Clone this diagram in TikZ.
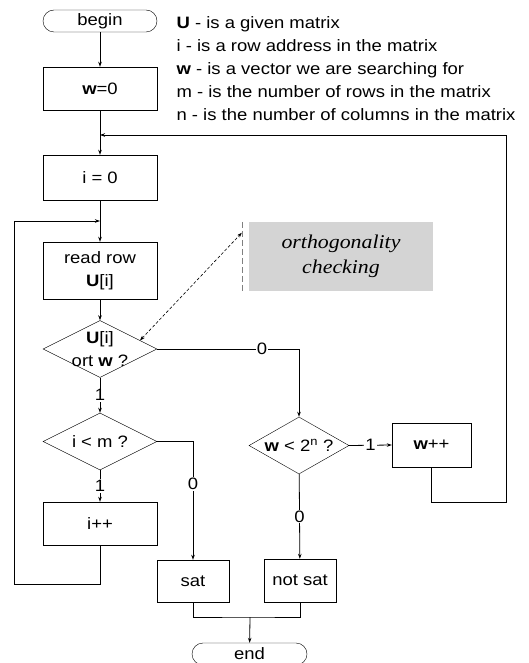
\documentclass[tikz,border=0pt]{standalone}
\usepackage{fontspec}
\setmainfont{Liberation Sans}[FakeStretch=1.12]
\newfontfamily\notefont{Liberation Serif}[FakeStretch=1.12]
\usetikzlibrary{shapes.geometric, arrows.meta, calc}

\begin{document}
\begin{tikzpicture}[x=1pt, y=-1pt, font=\fontsize{16.5}{23}\selectfont,
  >={Stealth[length=5pt, width=3.5pt]},
  proc/.style={draw, minimum width=114pt, minimum height=43pt, inner sep=2pt, align=center},
  term/.style={draw, rounded corners=11pt, minimum width=114pt, minimum height=22pt, inner sep=0pt},
  dec/.style={draw, diamond, minimum width=114pt, minimum height=57pt, inner sep=0pt},
  lbl/.style={fill=white, inner sep=1pt},
  note/.style={fill=black!17, minimum width=184pt, minimum height=69pt, align=center,
               font=\notefont\itshape\fontsize{19.5}{25}\selectfont},
  flow/.style={->, line width=0.8pt}]
  \useasboundingbox (0,0) rectangle (529,663);

  \node[term] (begin) at (100,21) {begin};
  \node[proc] (wzero) at (100,88.5) {\textbf{w}=0};
  \node[proc, minimum height=45pt] (izero) at (100,177.5) {i = 0};
  \node[proc, minimum height=57pt] (read) at (100,270.5) {read row\\\textbf{U}[i]};
  \node[dec, label={[align=center]center:\textbf{U}[i]\\ort \textbf{w} ?}] (ort) at (100,349) {};
  \node[dec] (ilm) at (100,441.5) {};
  \node at (ilm) {i < m ?};
  \node[proc] (ipp) at (100,523.5) {i++};
  \node[proc, minimum width=72pt, minimum height=42pt] (sat) at (193,581) {sat};
  \node[dec, minimum width=100pt] (wlt) at (299,445.5) {};
  \node at (wlt) {\textbf{w} < 2\textsuperscript{n} ?};
  \node[proc, minimum width=79pt, minimum height=44pt] (wpp) at (431.5,445) {\textbf{w}++};
  \node[proc, minimum width=72pt, minimum height=43pt] (notsat) at (300,580.5) {not sat};
  \node[term, minimum width=115pt] (end) at (249.5,654) {end};
  \node[note] (note) at (341,256.5) {orthogonality\\checking};
  \node[anchor=west, align=left] (legend) at (173,69)
    {\textbf{U} - is a given matrix\\
     i - is a row address in the matrix\\
     \textbf{w} - is a vector we are searching for\\
     m - is the number of rows in the matrix\\
     n - is the number of columns in the matrix};

  \coordinate (jw) at (100,135);
  \coordinate (ji) at (100,221);
  \coordinate (jm) at (250,617);

  \draw[flow] (begin) -- (wzero);
  \draw[flow] (wzero) -- (izero);
  \draw[flow] (izero) -- (read);
  \draw[flow] (read) -- (ort);
  \draw[flow] (ort) -- node[lbl] {1} (ilm);
  \draw[flow] (ilm) -- node[lbl] {1} (ipp);
  \draw[flow] (ort.east) -| node[lbl, pos=0.37] {0} (wlt.north);
  \draw[flow] (ilm.east) -| node[lbl, pos=0.68] {0} (sat.north);
  \draw[flow] (wlt.east) -- node[lbl] {1} (wpp.west);
  \draw[flow] (wlt) -- node[lbl] {0} (notsat);
  \draw[flow] (ipp.south) |- (14,584) |- (ji);
  \draw[flow] (wpp.south) |- (506,502) |- (jw);
  \draw[line width=0.8pt] (sat.south) |- (jm) -| (notsat.south);
  \draw[flow] (jm) -- (end);

  \draw[gray, dash pattern=on 6pt off 3pt] ([xshift=-7pt]note.north west) -- ([xshift=-7pt]note.south west);
  \draw[<->, dash pattern=on 3pt off 2pt, line width=0.6pt] ($(ort.north)!0.7!(ort.east)$) -- ([xshift=-7pt, yshift=-11pt]note.north west);
\end{tikzpicture}
\end{document}
